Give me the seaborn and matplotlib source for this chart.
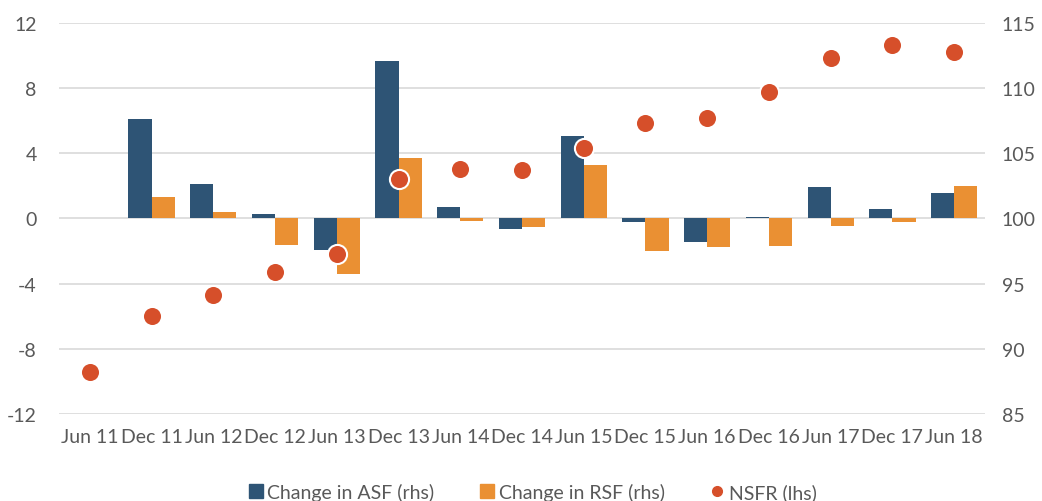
import numpy as np
import pandas as pd
import matplotlib
matplotlib.use('Agg')
import matplotlib.pyplot as plt
from matplotlib.lines import Line2D
import seaborn as sns

periods = ['Jun 11', 'Dec 11', 'Jun 12', 'Dec 12', 'Jun 13', 'Dec 13', 'Jun 14', 'Dec 14',
           'Jun 15', 'Dec 15', 'Jun 16', 'Dec 16', 'Jun 17', 'Dec 17', 'Jun 18']
asf = [0.0, 6.1, 2.1, 0.26, -1.95, 9.65, 0.72, -0.65, 5.05, -0.2, -1.45, 0.12, 1.95, 0.57, 1.57]
rsf = [0.0, 1.3, 0.37, -1.6, -3.4, 3.72, -0.16, -0.53, 3.3, -2.0, -1.75, -1.68, -0.45, -0.22, 2.0]
nsfr = [88.2, 92.5, 94.1, 95.9, 97.3, 103.0, 103.8, 103.75, 105.4, 107.3, 107.7, 109.7, 112.3, 113.3, 112.8]

c_asf = '#2E5475'
c_rsf = '#EA9033'
c_nsfr = '#D64F2A'
grey = '#595959'

bars = pd.DataFrame({
    'period': periods * 2,
    'value': asf + rsf,
    'series': ['Change in ASF (rhs)'] * len(periods) + ['Change in RSF (rhs)'] * len(periods),
})

sns.set_style('white')
plt.rcParams['font.family'] = ['Lato', 'DejaVu Sans']
plt.rcParams['axes.unicode_minus'] = False

fig = plt.figure(figsize=(10.42, 5.02), dpi=100)
ax = fig.add_axes([0.0566, 0.1733, 0.8887, 0.7789])

sns.barplot(data=bars, x='period', y='value', hue='series', order=periods,
            palette=[c_asf, c_rsf], width=0.75, gap=0, saturation=1,
            edgecolor='none', legend=False, ax=ax)
ax.set_ylim(-12, 12)
ax.set_yticks(range(-12, 13, 4))
ax.set_xlim(-0.5, len(periods) - 0.5)
ax.yaxis.grid(True, color='#D9D9D9', linewidth=1.2)
ax.set_axisbelow(True)
ax.set_xlabel('')
ax.set_ylabel('')

ax2 = ax.twinx()
sns.scatterplot(x=np.arange(len(periods)), y=nsfr, color=c_nsfr, s=190,
                edgecolor='white', linewidth=1.5, ax=ax2, zorder=5)
ax2.set_ylim(85, 115)
ax2.set_yticks(range(85, 116, 5))

for a in (ax, ax2):
    for sp in a.spines.values():
        sp.set_visible(False)
    a.tick_params(length=0, labelsize=14, colors=grey)
ax.tick_params(axis='y', pad=16)
ax.tick_params(axis='x', pad=10)
ax2.tick_params(axis='y', pad=12)

handles = [
    Line2D([], [], marker='s', linestyle='none', color=c_asf, markersize=10),
    Line2D([], [], marker='s', linestyle='none', color=c_rsf, markersize=10),
    Line2D([], [], marker='o', linestyle='none', color=c_nsfr, markersize=7),
]
labels = ['Change in ASF (rhs)', 'Change in RSF (rhs)', 'NSFR (lhs)']
fig.legend(handles, labels, loc='lower center', bbox_to_anchor=(0.51, -0.035), ncol=3,
           frameon=False, fontsize=14, labelcolor=grey, handletextpad=0.1,
           columnspacing=2.2, handlelength=1)

fig.savefig('out.png', dpi=100)
